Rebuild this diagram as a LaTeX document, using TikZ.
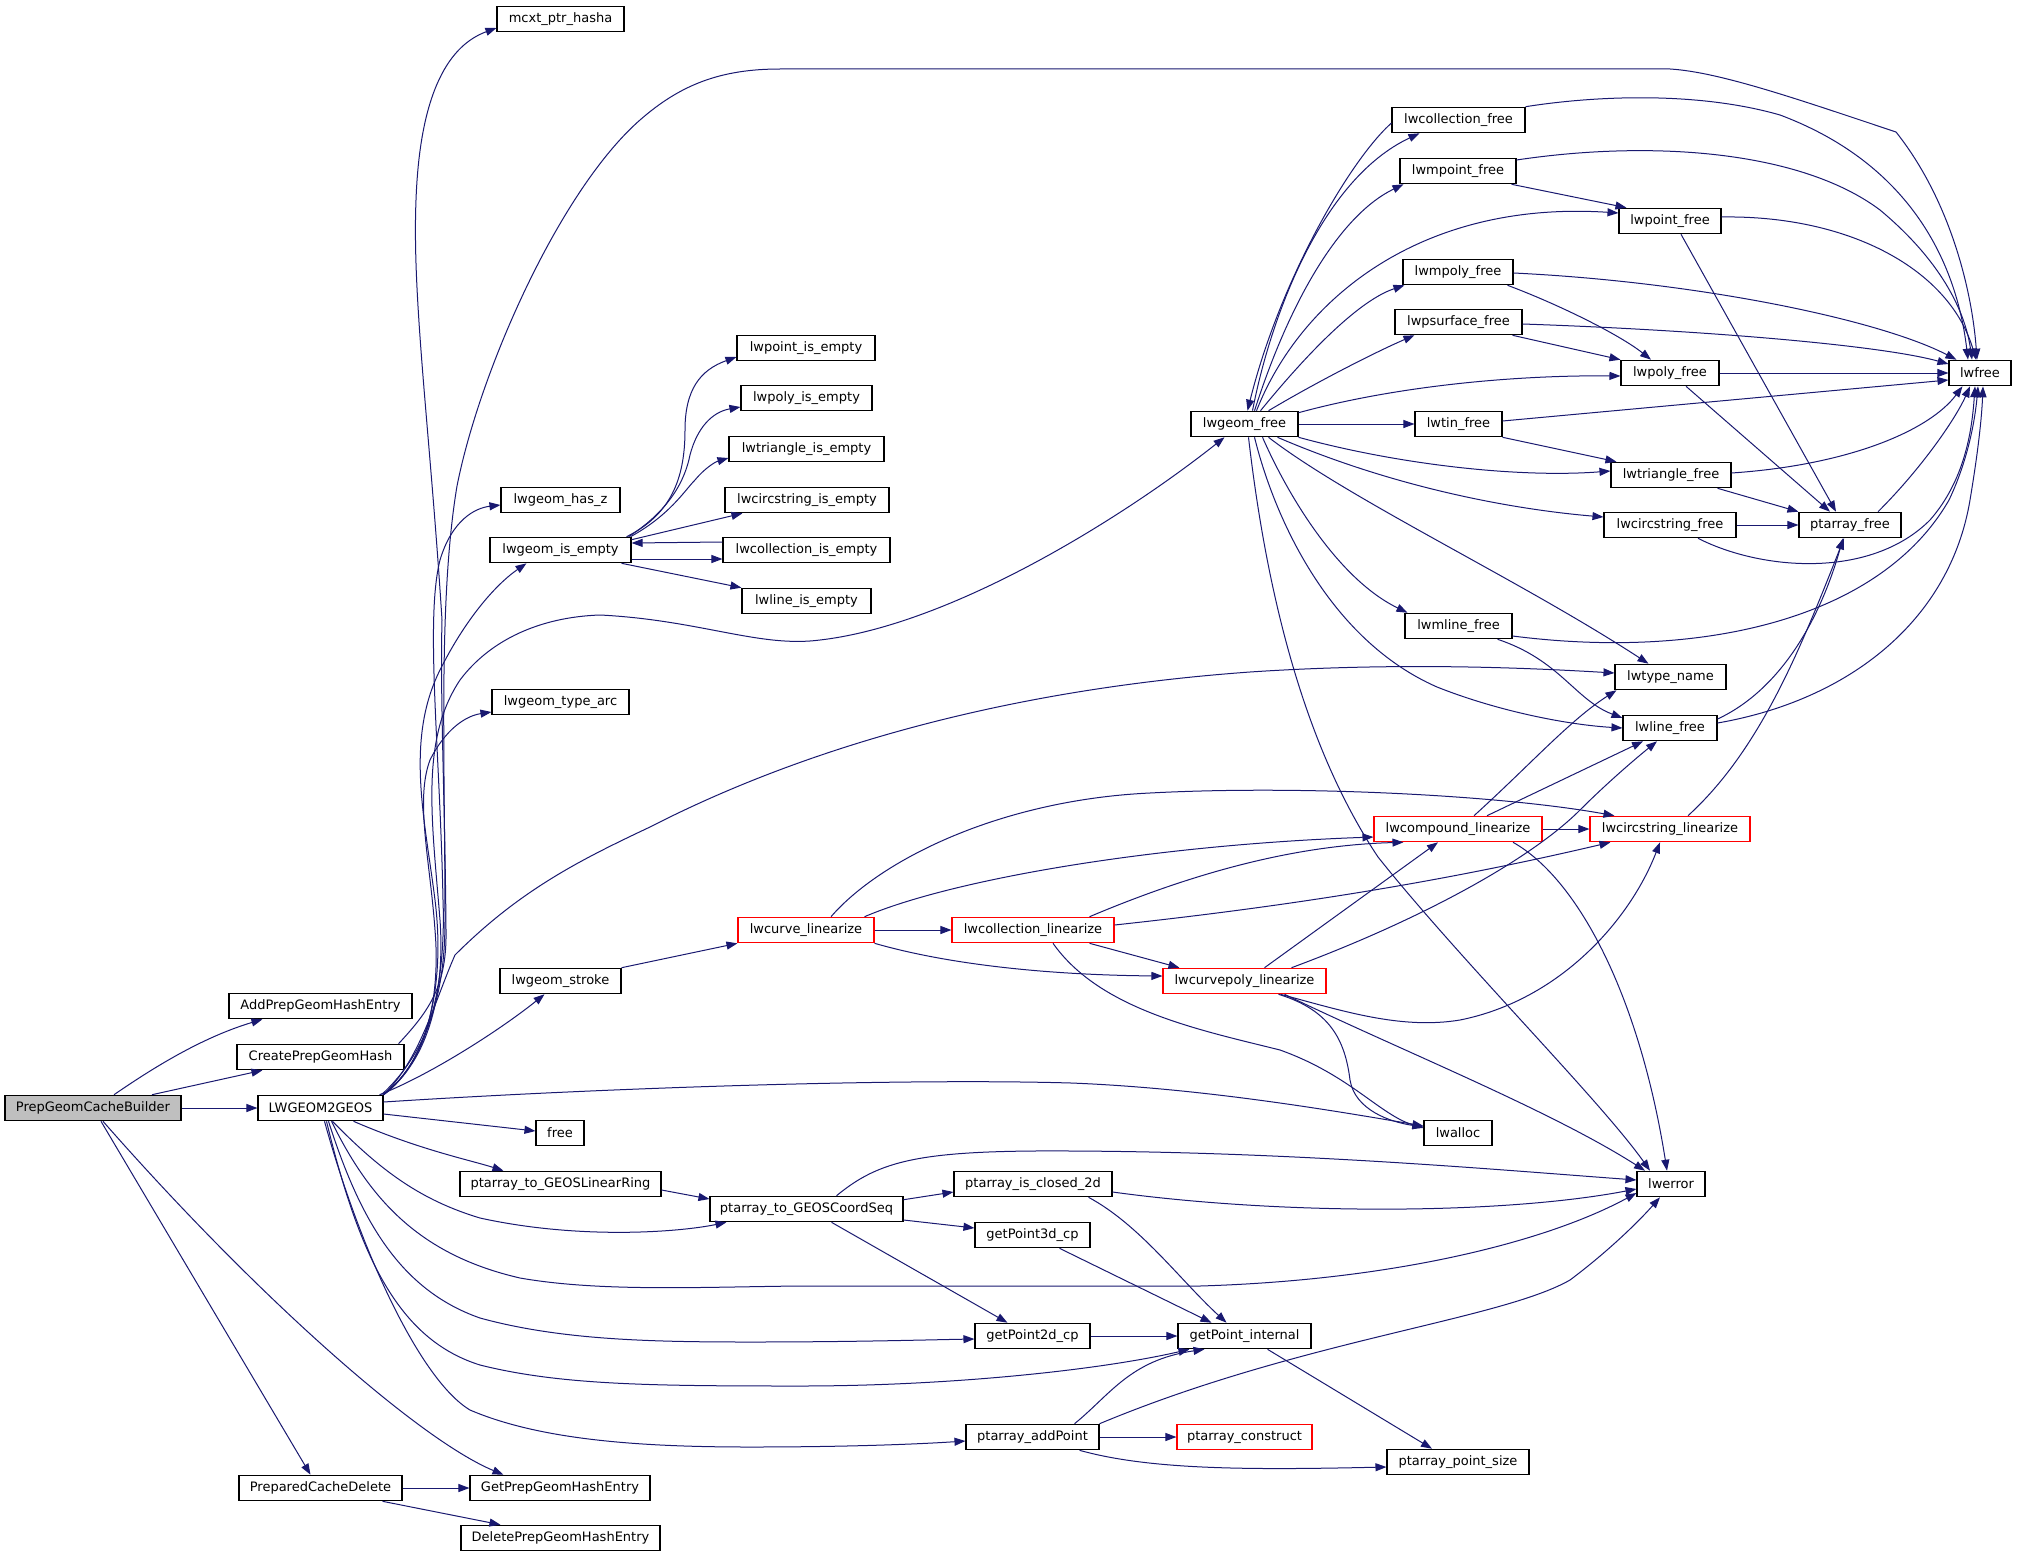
\documentclass[tikz,border=0pt]{standalone}
\usepackage{fontspec}
\setmainfont{DejaVu Sans}
\usetikzlibrary{arrows.meta}
\definecolor{edgeblue}{HTML}{191970}
\definecolor{nodegray}{HTML}{BFBFBF}
\newcommand{\fnfont}{\fontsize{13}{15}\selectfont}
\tikzset{
  fn/.style={draw=black, line width=1.1pt, fill=white, minimum height=25.5pt, inner sep=0pt, font=\fnfont, text=black},
  fnr/.style={fn, draw=red},
  ed/.style={draw=edgeblue, line width=1pt, -{Triangle[length=11pt,width=8pt]}}
}
\begin{document}
\begin{tikzpicture}[x=1pt,y=-1pt]
\useasboundingbox (0,0) rectangle (2017,1557);
\fill[white] (0,0) rectangle (2017,1557);
% nodes
\node[fn,minimum width=176pt,fill=nodegray] (pgcb) at (93,1108) {PrepGeomCacheBuilder};
\node[fn,minimum width=183pt] (addh) at (320.5,1006) {AddPrepGeomHashEntry};
\node[fn,minimum width=167pt] (cph) at (320.5,1057) {CreatePrepGeomHash};
\node[fn,minimum width=125pt] (l2g) at (320.5,1108) {LWGEOM2GEOS};
\node[fn,minimum width=163pt] (pcd) at (320.5,1488) {PreparedCacheDelete};
\node[fn,minimum width=127pt] (mcxt) at (560.5,19) {mcxt\_ptr\_hasha};
\node[fn,minimum width=119pt] (hasz) at (560.5,500) {lwgeom\_has\_z};
\node[fn,minimum width=141pt] (isempty) at (560.5,550) {lwgeom\_is\_empty};
\node[fn,minimum width=137pt] (typearc) at (560.5,702) {lwgeom\_type\_arc};
\node[fn,minimum width=121pt] (stroke) at (560.5,981) {lwgeom\_stroke};
\node[fn,minimum width=48pt] (free) at (560,1133) {free};
\node[fn,minimum width=201pt] (linring) at (560.5,1184) {ptarray\_to\_GEOSLinearRing};
\node[fn,minimum width=180pt] (getph) at (560,1488) {GetPrepGeomHashEntry};
\node[fn,minimum width=199pt] (delph) at (560.5,1538) {DeletePrepGeomHashEntry};
\node[fn,minimum width=138pt] (ptempty) at (806,348) {lwpoint\_is\_empty};
\node[fn,minimum width=131pt] (polyempty) at (806.5,398) {lwpoly\_is\_empty};
\node[fn,minimum width=155pt] (triempty) at (806.5,449) {lwtriangle\_is\_empty};
\node[fn,minimum width=164pt] (circempty) at (807,500) {lwcircstring\_is\_empty};
\node[fn,minimum width=167pt] (collempty) at (806.5,550) {lwcollection\_is\_empty};
\node[fn,minimum width=129pt] (lineempty) at (806.5,601) {lwline\_is\_empty};
\node[fnr,minimum width=136pt] (curvelin) at (806,930) {lwcurve\_linearize};
\node[fn,minimum width=193pt] (coordseq) at (806.5,1209) {ptarray\_to\_GEOSCoordSeq};
\node[fnr,minimum width=162pt] (colllin) at (1033,930) {lwcollection\_linearize};
\node[fn,minimum width=158pt] (closed) at (1033,1184) {ptarray\_is\_closed\_2d};
\node[fn,minimum width=115pt] (gp3) at (1032.5,1235) {getPoint3d\_cp};
\node[fn,minimum width=115pt] (gp2) at (1032.5,1336) {getPoint2d\_cp};
\node[fn,minimum width=133pt] (addpt) at (1032.5,1437) {ptarray\_addPoint};
\node[fn,minimum width=107pt] (gfree) at (1244.5,424) {lwgeom\_free};
\node[fnr,minimum width=163pt] (cplin) at (1244.5,981) {lwcurvepoly\_linearize};
\node[fn,minimum width=133pt] (gpi) at (1244.5,1336) {getPoint\_internal};
\node[fnr,minimum width=135pt] (pcons) at (1244.5,1437) {ptarray\_construct};
\node[fn,minimum width=133pt] (collfree) at (1458.5,120) {lwcollection\_free};
\node[fn,minimum width=116pt] (mptfree) at (1458,171) {lwmpoint\_free};
\node[fn,minimum width=110pt] (mpolyfree) at (1458,272) {lwmpoly\_free};
\node[fn,minimum width=127pt] (psurffree) at (1458.5,322) {lwpsurface\_free};
\node[fn,minimum width=87pt] (tinfree) at (1458.5,424) {lwtin\_free};
\node[fn,minimum width=107pt] (mlinefree) at (1458.5,626) {lwmline\_free};
\node[fnr,minimum width=168pt] (complin) at (1458,829) {lwcompound\_linearize};
\node[fn,minimum width=68pt] (lwalloc) at (1458,1133) {lwalloc};
\node[fn,minimum width=142pt] (ptsize) at (1458,1462) {ptarray\_point\_size};
\node[fn,minimum width=102pt] (ptfree) at (1670,221) {lwpoint\_free};
\node[fn,minimum width=98pt] (polyfree) at (1670,373) {lwpoly\_free};
\node[fn,minimum width=120pt] (trifree) at (1671,475) {lwtriangle\_free};
\node[fn,minimum width=132pt] (circfree) at (1670,525) {lwcircstring\_free};
\node[fn,minimum width=111pt] (typename) at (1670.5,677) {lwtype\_name};
\node[fn,minimum width=94pt] (linefree) at (1670,728) {lwline\_free};
\node[fnr,minimum width=160pt] (circlin) at (1670,829) {lwcircstring\_linearize};
\node[fn,minimum width=68pt] (lwerror) at (1671,1184) {lwerror};
\node[fn,minimum width=102pt] (ptafree) at (1850,525) {ptarray\_free};
\node[fn,minimum width=62pt] (lwfree) at (1980,373) {lwfree};
% edges from PrepGeomCacheBuilder
\draw[ed] ([xshift=21]pgcb.north) .. controls (150,1070) and (200,1038) .. ([xshift=34]addh.south west);
\draw[ed] ([xshift=59]pgcb.north) -- ([xshift=26]cph.south west);
\draw[ed] (pgcb.east) -- (l2g.west);
\draw[ed] ([xshift=10]pgcb.south) .. controls (260,1300) and (420,1440) .. ([xshift=34]getph.north west);
\draw[ed] ([xshift=8]pgcb.south) -- ([xshift=-10]pcd.north);
\draw[ed] (pcd.east) -- (getph.west);
\draw[ed] ([xshift=-20]pcd.south east) -- ([xshift=40]delph.north west);
% CreatePrepGeomHash
\draw[ed] ([xshift=-6]cph.north east) .. controls (430,1010) and (447,985) .. (446,930) .. controls (445,800) and (440,700) .. (442,620) .. controls (430,430) and (412,300) .. (416,200) .. controls (420,90) and (450,45) .. ([yshift=-9]mcxt.west);
% LWGEOM2GEOS
\draw[ed] ([xshift=-2]l2g.north east) .. controls (430,1050) and (445,990) .. (445,920) .. controls (445,760) and (438,600) .. (457,486) .. controls (480,370) and (560,190) .. (640,120) .. controls (680,85) and (720,69) .. (780,69) -- (1670,69) .. controls (1720,72) and (1800,100) .. (1896,132) .. controls (1950,200) and (1972,290) .. ([xshift=-3]lwfree.north);
\draw[ed] (l2g.north east) .. controls (430,1060) and (446,980) .. (443,900) .. controls (440,750) and (425,620) .. (440,560) .. controls (452,520) and (475,508) .. ([yshift=-5]hasz.west);
\draw[ed] (l2g.north east) .. controls (430,1060) and (445,980) .. (435,900) .. controls (425,820) and (405,740) .. (440,670) .. controls (465,620) and (495,585) .. ([xshift=-34]isempty.south);
\draw[ed] (l2g.north east) .. controls (430,1060) and (445,990) .. (440,920) .. controls (432,820) and (420,740) .. (460,680) .. controls (490,640) and (540,617) .. (600,615) .. controls (700,620) and (760,648) .. (820,640) .. controls (950,625) and (1120,520) .. ([xshift=-20]gfree.south);
\draw[ed] (l2g.north east) .. controls (430,1060) and (440,990) .. (435,930) .. controls (430,860) and (415,800) .. (430,760) .. controls (445,730) and (465,716) .. ([yshift=-10]typearc.west);
\draw[ed] (l2g.north east) .. controls (420,1060) and (435,1000) .. (455,955) .. controls (520,890) and (580,860) .. (650,827) .. controls (800,750) and (1000,690) .. (1250,672) .. controls (1400,662) and (1530,668) .. ([yshift=4]typename.west);
\draw[ed] ([xshift=-4]l2g.north east) .. controls (430,1075) and (500,1030) .. ([xshift=-16]stroke.south);
\draw[ed] ([yshift=6]l2g.east) .. controls (600,1088) and (900,1078) .. (1071,1083) .. controls (1200,1088) and (1330,1110) .. ([yshift=7]lwalloc.west);
\draw[ed] ([yshift=-6]l2g.east) -- ([yshift=2]free.west);
\draw[ed] ([xshift=-30]l2g.south east) .. controls (420,1150) and (470,1160) .. ([xshift=44]linring.north west);
\draw[ed] ([xshift=12]l2g.south) .. controls (380,1170) and (420,1200) .. (480,1218) .. controls (580,1240) and (680,1232) .. ([xshift=17]coordseq.south west);
\draw[ed] ([xshift=11]l2g.south) .. controls (370,1200) and (420,1255) .. (520,1278) .. controls (600,1292) and (700,1287) .. (800,1286) -- (1200,1286) .. controls (1400,1280) and (1550,1240) .. ([yshift=-9]lwerror.west);
\draw[ed] ([xshift=8]l2g.south) .. controls (360,1220) and (400,1290) .. (480,1318) .. controls (560,1340) and (650,1342) .. (750,1342) .. controls (850,1342) and (920,1340) .. ([yshift=-3]gp2.west);
\draw[ed] ([xshift=6]l2g.south) .. controls (360,1260) and (400,1340) .. (480,1365) .. controls (560,1385) and (650,1386) .. (800,1386) .. controls (950,1386) and (1100,1370) .. ([xshift=12]gpi.south west);
\draw[ed] ([xshift=4]l2g.south) .. controls (360,1250) and (420,1380) .. (470,1410) .. controls (540,1440) and (640,1447) .. (750,1447) .. controls (850,1447) and (920,1444) .. ([yshift=-4]addpt.west);
% lwgeom_is_empty
\draw[ed] ([xshift=-5]isempty.north east) .. controls (670,515) and (685,480) .. (685,430) .. controls (685,390) and (700,370) .. ([yshift=-9]ptempty.west);
\draw[ed] ([xshift=-3]isempty.north east) .. controls (670,510) and (685,480) .. (690,455) .. controls (697,428) and (712,412) .. ([yshift=-9]polyempty.west);
\draw[ed] ([xshift=-1]isempty.north east) .. controls (670,515) and (685,490) .. (695,480) .. controls (705,468) and (715,462) .. ([yshift=-9]triempty.west);
\draw[ed] ([yshift=-3]isempty.north east) -- ([xshift=18]circempty.south west);
\draw[ed] ([yshift=-9]isempty.east) -- ([yshift=-9]collempty.west);
\draw[ed] ([yshift=8]collempty.west) -- ([yshift=7]isempty.east);
\draw[ed] ([xshift=-10]isempty.south east) -- (lineempty.north west);
% stroke / linearize
\draw[ed] (stroke.north east) -- (curvelin.south west);
\draw[ed] (curvelin.east) -- (colllin.west);
\draw[ed] ([xshift=-10]curvelin.north east) .. controls (950,880) and (1150,845) .. ([yshift=-8]complin.west);
\draw[ed] ([xshift=25]curvelin.north) .. controls (880,860) and (1000,800) .. (1150,793) .. controls (1300,785) and (1500,795) .. ([xshift=25]circlin.north west);
\draw[ed] (curvelin.south east) .. controls (950,965) and (1050,975) .. ([yshift=5]cplin.west);
\draw[ed] ([xshift=-25]colllin.north east) .. controls (1200,870) and (1300,845) .. ([xshift=30]complin.south west);
\draw[ed] ([yshift=5]colllin.east) .. controls (1300,905) and (1450,880) .. ([xshift=21]circlin.south west);
\draw[ed] ([xshift=-25]colllin.south east) -- ([xshift=17]cplin.north west);
\draw[ed] ([xshift=20]colllin.south) .. controls (1100,1010) and (1200,1030) .. (1280,1050) .. controls (1350,1075) and (1380,1115) .. ([yshift=5]lwalloc.west);
\draw[ed] ([xshift=20]cplin.north) -- ([xshift=-20]complin.south);
\draw[ed] ([xshift=47]cplin.north) .. controls (1420,920) and (1530,860) .. (1580,810) .. controls (1610,780) and (1640,755) .. ([xshift=-13]linefree.south);
\draw[ed] ([xshift=36]cplin.south) .. controls (1340,1010) and (1400,1030) .. (1460,1020) .. controls (1560,1000) and (1630,920) .. ([xshift=-10]circlin.south);
\draw[ed] ([xshift=34]cplin.south) .. controls (1330,1010) and (1345,1040) .. (1350,1080) .. controls (1355,1110) and (1390,1122) .. ([yshift=6]lwalloc.west);
\draw[ed] ([xshift=40]cplin.south) .. controls (1400,1050) and (1550,1110) .. ([xshift=-26]lwerror.north);
\draw[ed] (complin.east) -- (circlin.west);
\draw[ed] ([xshift=16]complin.north) .. controls (1530,765) and (1570,720) .. ([xshift=2]typename.south west);
\draw[ed] ([xshift=29]complin.north) -- ([xshift=-27]linefree.south);
\draw[ed] ([xshift=55]complin.south) .. controls (1580,880) and (1640,1000) .. ([xshift=-4]lwerror.north);
\draw[ed] ([xshift=18]circlin.north) .. controls (1760,750) and (1800,650) .. ([xshift=-6]ptafree.south);
% free functions
\draw[ed] ([yshift=9]linefree.east) .. controls (1780,690) and (1820,620) .. ([xshift=-7]ptafree.south);
\draw[ed] ([yshift=5]linefree.east) .. controls (1850,700) and (1950,620) .. (1970,500) .. controls (1980,440) and (1982,410) .. ([xshift=3]lwfree.south);
\draw[ed] ([yshift=-10]mlinefree.east) .. controls (1700,660) and (1880,620) .. (1949,500) .. controls (1968,460) and (1975,420) .. ([xshift=-2]lwfree.south);
\draw[ed] ([xshift=-15]mlinefree.south east) .. controls (1560,660) and (1575,700) .. ([yshift=10]linefree.west);
\draw[ed] ([xshift=8]gfree.north) .. controls (1270,320) and (1320,180) .. ([xshift=28]collfree.south west);
\draw[ed] ([yshift=-3]collfree.west) .. controls (1350,160) and (1280,280) .. ([xshift=3]gfree.north);
\draw[ed] ([xshift=10]gfree.north) .. controls (1290,300) and (1340,215) .. ([xshift=4]mptfree.south west);
\draw[ed] ([xshift=12]gfree.north) .. controls (1300,300) and (1420,200) .. ([yshift=8]ptfree.west);
\draw[ed] ([xshift=16]gfree.north) .. controls (1310,350) and (1360,300) .. ([xshift=2]mpolyfree.south west);
\draw[ed] ([xshift=24]gfree.north) .. controls (1320,380) and (1380,350) .. ([xshift=20]psurffree.south west);
\draw[ed] ([yshift=-2]gfree.north east) .. controls (1400,385) and (1520,375) .. ([yshift=-3]polyfree.west);
\draw[ed] (gfree.east) -- (tinfree.west);
\draw[ed] (gfree.south east) .. controls (1400,465) and (1520,478) .. ([yshift=4]trifree.west);
\draw[ed] ([xshift=33]gfree.south) .. controls (1400,490) and (1520,510) .. ([yshift=8]circfree.west);
\draw[ed] ([xshift=18]gfree.south) .. controls (1290,500) and (1340,580) .. ([xshift=3]mlinefree.north west);
\draw[ed] ([xshift=24]gfree.south) .. controls (1350,500) and (1520,580) .. ([xshift=-22]typename.north);
\draw[ed] ([xshift=10]gfree.south) .. controls (1275,520) and (1330,640) .. (1437,687) .. controls (1500,712) and (1570,725) .. (linefree.west);
\draw[ed] ([xshift=4]gfree.south) .. controls (1265,580) and (1300,740) .. (1378,857) .. controls (1460,960) and (1600,1100) .. ([xshift=-21]lwerror.north);
\draw[ed] (collfree.north east) .. controls (1600,95) and (1700,92) .. (1780,115) .. controls (1900,160) and (1955,250) .. ([xshift=-12]lwfree.north);
\draw[ed] ([yshift=11]mptfree.east) .. controls (1650,140) and (1800,150) .. (1880,210) .. controls (1940,260) and (1965,310) .. ([xshift=-8]lwfree.north);
\draw[ed] ([xshift=-5]mptfree.south east) -- ([xshift=8]ptfree.north west);
\draw[ed] ([yshift=4]ptfree.east) .. controls (1850,215) and (1950,270) .. ([xshift=-4]lwfree.north);
\draw[ed] ([xshift=11]ptfree.south) -- ([xshift=-14]ptafree.north);
\draw[ed] ([yshift=-1]mpolyfree.east) .. controls (1700,282) and (1880,320) .. ([xshift=8]lwfree.north west);
\draw[ed] ([xshift=-6]mpolyfree.south east) .. controls (1560,305) and (1620,335) .. ([xshift=-19]polyfree.north);
\draw[ed] ([yshift=-2]psurffree.east) .. controls (1700,330) and (1880,345) .. ([yshift=9]lwfree.west);
\draw[ed] ([xshift=-10]psurffree.south east) -- (polyfree.north west);
\draw[ed] (polyfree.east) -- (lwfree.west);
\draw[ed] ([xshift=16]polyfree.south) -- ([xshift=-20]ptafree.north);
\draw[ed] ([yshift=3]tinfree.east) -- ([yshift=-7]lwfree.west);
\draw[ed] (tinfree.south east) -- ([xshift=6]trifree.north west);
\draw[ed] ([yshift=2]trifree.east) .. controls (1850,465) and (1930,430) .. ([xshift=14]lwfree.south west);
\draw[ed] ([xshift=-14]trifree.south east) -- (ptafree.north west);
\draw[ed] (circfree.east) -- (ptafree.west);
\draw[ed] ([xshift=28]circfree.south) .. controls (1760,570) and (1870,580) .. (1930,520) .. controls (1965,480) and (1972,430) .. ([xshift=-5]lwfree.south);
\draw[ed] ([xshift=28]ptafree.north) .. controls (1920,470) and (1955,420) .. ([xshift=-10]lwfree.south);
% point array functions
\draw[ed] ([yshift=-6]linring.east) -- ([yshift=10]coordseq.west);
\draw[ed] ([xshift=30]coordseq.north) .. controls (880,1160) and (920,1150) .. (1071,1151) .. controls (1300,1152) and (1500,1170) .. ([yshift=4]lwerror.west);
\draw[ed] ([yshift=-4]coordseq.north east) -- ([yshift=-8]closed.west);
\draw[ed] ([yshift=-11]coordseq.east) -- ([yshift=7]gp3.west);
\draw[ed] ([xshift=25]coordseq.south) -- ([xshift=-25]gp2.north);
\draw[ed] ([yshift=-8]closed.east) .. controls (1280,1215) and (1500,1215) .. ([yshift=-5]lwerror.west);
\draw[ed] ([xshift=-24]closed.south east) .. controls (1140,1225) and (1180,1280) .. ([xshift=-18]gpi.north);
\draw[ed] ([xshift=27]gp3.south) -- ([xshift=-33]gpi.north);
\draw[ed] (gp2.east) -- (gpi.west);
\draw[ed] ([xshift=23]gpi.south) -- ([xshift=-26]ptsize.north);
\draw[ed] ([xshift=42]addpt.north) .. controls (1110,1395) and (1130,1360) .. ([xshift=27]gpi.south west);
\draw[ed] (addpt.north east) .. controls (1300,1340) and (1500,1320) .. (1570,1280) .. controls (1610,1250) and (1640,1220) .. ([xshift=-11]lwerror.south);
\draw[ed] (addpt.east) -- (pcons.west);
\draw[ed] ([xshift=-20]addpt.south east) .. controls (1150,1470) and (1250,1470) .. ([yshift=-5]ptsize.west);
\end{tikzpicture}
\end{document}
